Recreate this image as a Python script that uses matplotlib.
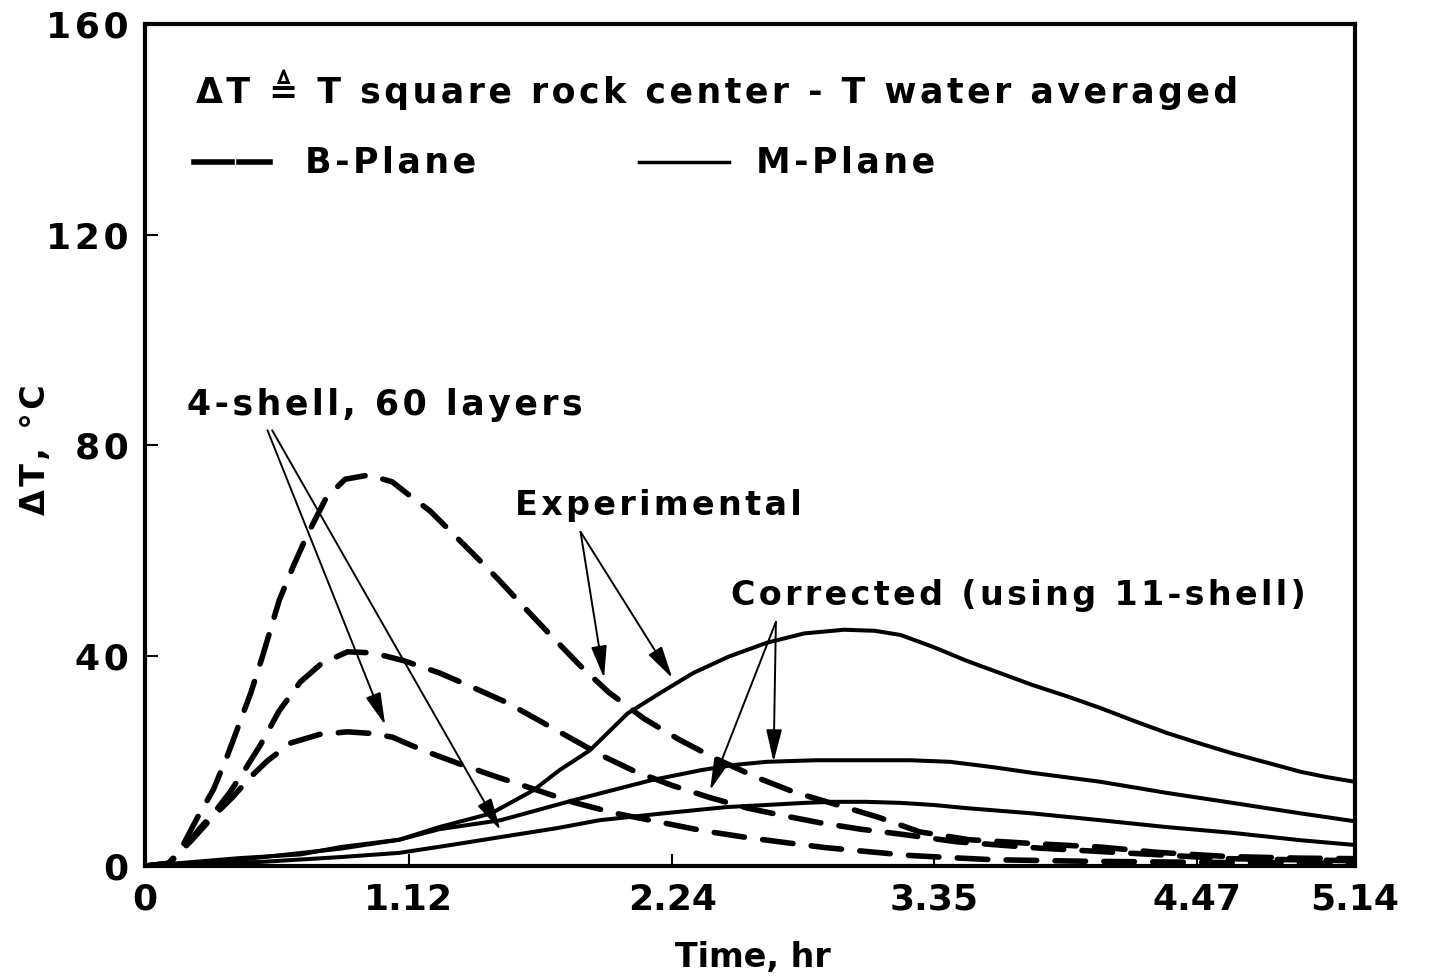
import matplotlib
matplotlib.use("Agg")
import matplotlib.pyplot as plt

plt.rcParams['font.family'] = ['DejaVu Sans']
plt.rcParams['font.weight'] = 'bold'

# B-plane (dashed), three curves: hours, degC
b_top_t = [0.0, 0.10, 0.15, 0.22, 0.29, 0.35, 0.40, 0.45, 0.50, 0.57, 0.63, 0.69, 0.77, 0.85,
           0.95, 1.05, 1.15, 1.21, 1.30, 1.39, 1.50, 1.61, 1.72, 1.85, 1.97, 2.12, 2.27, 2.42,
           2.60, 2.76, 2.95, 3.12, 3.29, 3.50, 3.80, 4.06, 4.30, 4.60, 4.90, 5.14]
b_top_v = [0.0, 0.5, 3.0, 9.0, 14.5, 21.0, 27.0, 33.0, 40.0, 50.5, 57.0, 63.0, 70.0, 73.5,
           74.3, 73.0, 69.5, 67.5, 63.5, 59.5, 54.5, 49.2, 44.0, 38.0, 33.0, 28.0, 24.0, 20.5,
           16.8, 14.0, 11.5, 9.2, 6.5, 5.0, 4.2, 3.6, 2.6, 1.8, 1.5, 1.4]

b_mid_t = [0.0, 0.10, 0.15, 0.23, 0.30, 0.36, 0.42, 0.49, 0.57, 0.66, 0.75, 0.86, 0.97, 1.10,
           1.25, 1.40, 1.54, 1.68, 1.80, 1.94, 2.08, 2.24, 2.40, 2.56, 2.72, 2.87, 3.04, 3.22,
           3.45, 3.80, 4.20, 4.60, 5.14]
b_mid_v = [0.0, 0.5, 2.5, 7.0, 10.5, 14.0, 18.0, 23.0, 29.5, 35.0, 38.5, 40.7, 40.5, 39.0,
           36.7, 33.8, 31.0, 27.5, 24.5, 21.0, 18.0, 15.3, 13.0, 11.0, 9.5, 8.2, 7.0, 6.0,
           4.6, 3.4, 2.4, 1.4, 1.0]

b_low_t = [0.0, 0.10, 0.20, 0.28, 0.37, 0.45, 0.52, 0.62, 0.74, 0.86, 0.96, 1.05, 1.18, 1.33,
           1.49, 1.66, 1.82, 2.00, 2.18, 2.37, 2.56, 2.73, 2.89, 3.08, 3.25, 3.42, 3.60, 4.00,
           4.50, 5.14]
b_low_v = [0.0, 0.5, 5.0, 9.0, 13.0, 17.0, 20.0, 23.4, 25.0, 25.5, 25.2, 24.5, 22.0, 19.5,
           17.0, 14.5, 12.1, 10.0, 8.4, 6.7, 5.4, 4.4, 3.5, 2.7, 2.0, 1.6, 1.2, 0.9,
           0.7, 0.5]

# M-plane (solid), three curves
m_top_t = [0.0, 0.40, 0.66, 0.83, 1.08, 1.25, 1.47, 1.65, 1.76, 1.89, 2.05, 2.20, 2.33, 2.48,
           2.64, 2.80, 2.97, 3.10, 3.21, 3.35, 3.49, 3.63, 3.77, 3.92, 4.06, 4.20, 4.34, 4.48,
           4.62, 4.77, 4.91, 5.02, 5.14]
m_top_v = [0.0, 1.5, 2.2, 3.6, 5.0, 7.4, 10.0, 14.4, 18.2, 22.0, 29.0, 33.2, 36.7, 39.8,
           42.4, 44.2, 44.9, 44.7, 43.9, 41.6, 39.0, 36.7, 34.4, 32.2, 30.0, 27.6, 25.3, 23.3,
           21.4, 19.6, 17.9, 16.9, 16.0]

m_mid_t = [0.0, 0.40, 0.83, 1.08, 1.25, 1.51, 1.82, 2.15, 2.36, 2.50, 2.64, 2.85, 3.07, 3.25,
           3.42, 3.60, 3.77, 4.06, 4.34, 4.62, 4.91, 5.14]
m_mid_v = [0.0, 1.2, 3.3, 5.0, 7.0, 8.7, 12.5, 16.3, 18.2, 19.2, 19.8, 20.1, 20.1, 20.1,
           19.8, 18.8, 17.7, 16.0, 13.9, 12.0, 10.0, 8.5]

m_low_t = [0.0, 0.50, 0.83, 1.08, 1.30, 1.51, 1.75, 1.93, 2.20, 2.47, 2.64, 2.80, 2.92, 3.06,
           3.21, 3.35, 3.49, 3.77, 4.06, 4.34, 4.62, 4.91, 5.14]
m_low_v = [0.0, 0.8, 1.7, 2.5, 4.0, 5.5, 7.2, 8.7, 10.0, 11.2, 11.6, 12.0, 12.2, 12.2,
           12.0, 11.6, 11.0, 10.0, 8.7, 7.4, 6.3, 4.9, 4.0]

xticks = [0, 1.12, 2.24, 3.35, 4.47, 5.14]
xticklabels = ['0', '1.12', '2.24', '3.35', '4.47', '5.14']
yticks = [0, 40, 80, 120, 160]
yticklabels = ['0', '40', '80', '120', '160']


def spaced(s):
    # the scanned lettering is widely tracked, pad it with hair spaces
    return '\u200a'.join(s)


fig = plt.figure(figsize=(14.32, 9.8), dpi=100)
ax = fig.add_axes([0.1013, 0.1163, 0.8449, 0.8592])

dash = (0, (5.5, 3.3))
for t, v in [(b_top_t, b_top_v), (b_mid_t, b_mid_v), (b_low_t, b_low_v)]:
    ax.plot(t, v, color='black', lw=4, linestyle=dash, dash_capstyle='round')
for t, v in [(m_top_t, m_top_v), (m_mid_t, m_mid_v), (m_low_t, m_low_v)]:
    ax.plot(t, v, color='black', lw=2.9)

ax.set_xlim(0, 5.14)
ax.set_ylim(0, 160)
ax.set_xticks(xticks)
ax.set_xticklabels(xticklabels, fontsize=26, fontweight='bold')
ax.set_yticks(yticks)
ax.set_yticklabels([spaced(s) for s in yticklabels], fontsize=26, fontweight='bold')
ax.tick_params(direction='in', length=9, width=1.5, pad=12)
for s in ax.spines.values():
    s.set_linewidth(3)

fig.text(753 / 1432, 1 - 957 / 980, 'Time, hr', fontsize=24, fontweight='bold',
         ha='center', va='center')
fig.text(35 / 1432, 1 - 450 / 980, spaced('ΔT, °C'), fontsize=24, fontweight='bold',
         ha='center', va='center', rotation=90)

# header text and legend samples
fs = 25
ax.text(0.042, 0.922, spaced('ΔT ≜ T square rock center - T water averaged'),
        transform=ax.transAxes, fontsize=fs, fontweight='bold', va='center')
ax.plot([0.0405, 0.0719], [0.836, 0.836], transform=ax.transAxes, color='black', lw=4)
ax.plot([0.0777, 0.1033], [0.836, 0.836], transform=ax.transAxes, color='black', lw=4)
ax.text(0.132, 0.836, spaced('B-Plane'), transform=ax.transAxes, fontsize=fs,
        fontweight='bold', va='center')
ax.plot([0.408, 0.483], [0.836, 0.836], transform=ax.transAxes, color='black', lw=2.5)
ax.text(0.505, 0.836, spaced('M-Plane'), transform=ax.transAxes, fontsize=fs,
        fontweight='bold', va='center')

arrow = dict(arrowstyle='-|>,head_length=0.9,head_width=0.22', lw=1.4, color='black',
             mutation_scale=22, shrinkA=0, shrinkB=0)

ax.text(0.18, 87.6, spaced('4-shell, 60 layers'), fontsize=fs, fontweight='bold',
        va='center')
ax.annotate('', xy=(1.02, 26.8), xytext=(0.52, 82.8), arrowprops=arrow)
ax.annotate('', xy=(1.51, 6.8), xytext=(0.54, 82.8), arrowprops=arrow)

ax.text(1.57, 68.6, spaced('Experimental'), fontsize=24, fontweight='bold', va='center')
ax.annotate('', xy=(1.95, 35.7), xytext=(1.85, 63.5), arrowprops=arrow)
ax.annotate('', xy=(2.24, 35.7), xytext=(1.85, 63.5), arrowprops=arrow)

ax.text(2.49, 51.5, spaced('Corrected (using 11-shell)'), fontsize=24,
        fontweight='bold', va='center')
ax.annotate('', xy=(2.40, 14.4), xytext=(2.68, 46.4), arrowprops=arrow)
ax.annotate('', xy=(2.67, 19.8), xytext=(2.68, 46.4), arrowprops=arrow)

fig.savefig('out.png', dpi=100)
